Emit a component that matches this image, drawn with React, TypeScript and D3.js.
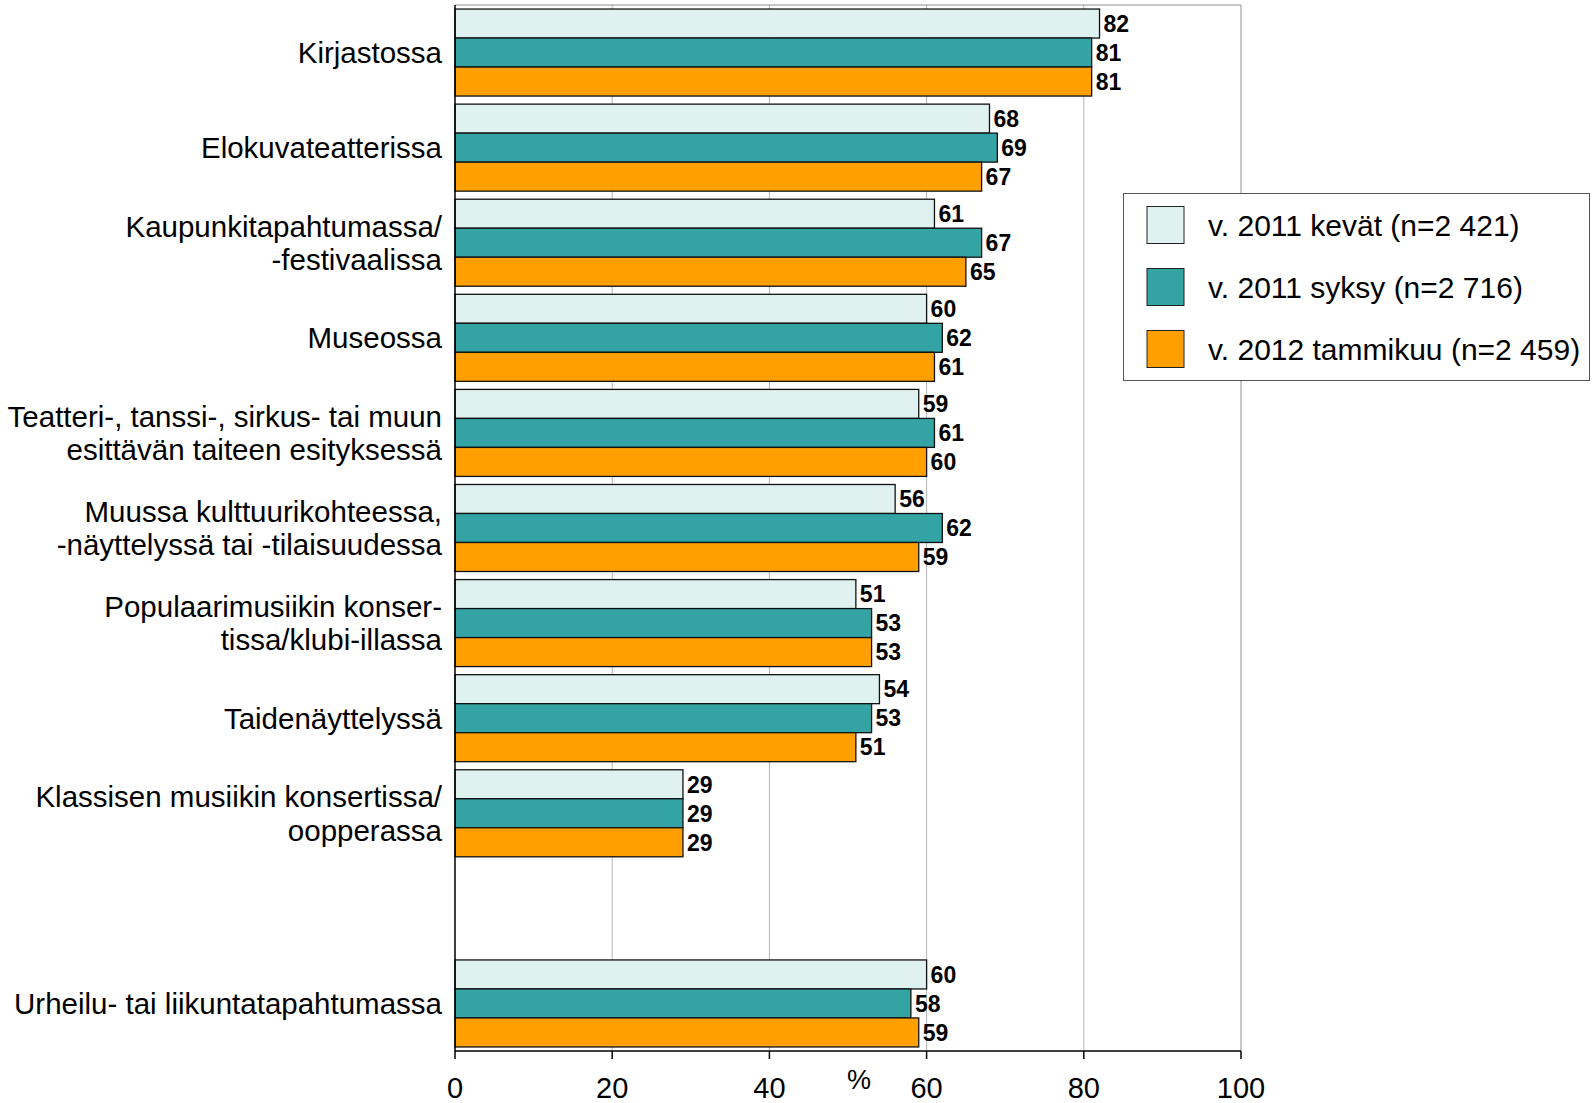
import React from "react";
import * as d3 from "d3";

const categories: string[][] = [
  ["Kirjastossa"],
  ["Elokuvateatterissa"],
  ["Kaupunkitapahtumassa/", "-festivaalissa"],
  ["Museossa"],
  ["Teatteri-, tanssi-, sirkus- tai muun", "esittävän taiteen esityksessä"],
  ["Muussa kulttuurikohteessa,", "-näyttelyssä tai -tilaisuudessa"],
  ["Populaarimusiikin konser-", "tissa/klubi-illassa"],
  ["Taidenäyttelyssä"],
  ["Klassisen musiikin konsertissa/", "oopperassa"],
  [],
  ["Urheilu- tai liikuntatapahtumassa"],
];

const seriesNames = [
  "v. 2011 kevät (n=2 421)",
  "v. 2011 syksy (n=2 716)",
  "v. 2012 tammikuu (n=2 459)",
];
const kevat2011 = [82, 68, 61, 60, 59, 56, 51, 54, 29, null, 60];
const syksy2011 = [81, 69, 67, 62, 61, 62, 53, 53, 29, null, 58];
const tammikuu2012 = [81, 67, 65, 61, 60, 59, 53, 51, 29, null, 59];
const seriesValues = [kevat2011, syksy2011, tammikuu2012];
const colors = ["#E0F2EF", "#33A3A4", "#FFA000"];
const xTicks = [0, 20, 40, 60, 80, 100];

const W = 1595;
const H = 1103;
const left = 455;
const right = 1241;
const top = 5;
const bottom = 1051;
const font = "Liberation Sans, Arial, sans-serif";

export default function App() {
  const x = d3.scaleLinear().domain([0, 100]).range([left, right]);
  const slots = categories.map((_, i) => String(i));
  const y = d3
    .scaleBand()
    .domain(slots)
    .range([top, bottom])
    .paddingInner(0.085)
    .paddingOuter(0.0425);
  const sub = d3
    .scaleBand()
    .domain(["0", "1", "2"])
    .range([0, y.bandwidth()]);

  return (
    <svg width={W} height={H} style={{ position: "absolute", left: 0, top: 0 }}>
      <rect x={0} y={0} width={W} height={H} fill="#fff" />
      {/* grid */}
      {xTicks.slice(1, -1).map((t) => (
        <line key={t} x1={x(t)} x2={x(t)} y1={top} y2={bottom} stroke="#b4b4b4" strokeWidth={1} />
      ))}
      {/* frame top/right */}
      <line x1={left} x2={right} y1={top} y2={top} stroke="#909090" strokeWidth={1} />
      <line x1={right} x2={right} y1={top} y2={bottom} stroke="#909090" strokeWidth={1} />
      {/* bars */}
      {categories.map((cat, i) =>
        seriesValues.map((vals, s) => {
          const v = vals[i];
          if (v == null) return null;
          const by = (y(String(i)) as number) + (sub(String(s)) as number);
          const bh = sub.bandwidth();
          return (
            <g key={`${i}-${s}`}>
              <rect
                x={x(0)}
                y={by}
                width={x(v) - x(0)}
                height={bh}
                fill={colors[s]}
                stroke="#111"
                strokeWidth={1.3}
              />
              <text
                x={x(v) + 4}
                y={by + bh / 2}
                dy="0.36em"
                fontFamily={font}
                fontWeight="bold"
                fontSize={23}
                fill="#000"
              >
                {v}
              </text>
            </g>
          );
        })
      )}
      {/* axes */}
      <line x1={left} x2={left} y1={top} y2={bottom} stroke="#000" strokeWidth={1.5} />
      <line x1={left} x2={right} y1={bottom} y2={bottom} stroke="#000" strokeWidth={1.5} />
      {xTicks.map((t) => (
        <g key={t}>
          <line x1={x(t)} x2={x(t)} y1={bottom} y2={bottom + 8} stroke="#000" strokeWidth={1.5} />
          <text
            x={x(t)}
            y={bottom + 37}
            dy="0.36em"
            textAnchor="middle"
            fontFamily={font}
            fontSize={29}
            fill="#000"
          >
            {t}
          </text>
        </g>
      ))}
      <text x={859} y={1079} dy="0.36em" textAnchor="middle" fontFamily={font} fontSize={27} fill="#000">
        %
      </text>
      {/* category labels */}
      {categories.map((lines, i) => {
        const cy = (y(String(i)) as number) + y.bandwidth() / 2;
        const lh = 33.5;
        return (
          <text key={i} textAnchor="end" fontFamily={font} fontSize={29.5} fill="#000">
            {lines.map((ln, j) => (
              <tspan key={j} x={left - 13} y={cy + (j - (lines.length - 1) / 2) * lh} dy="0.36em">
                {ln}
              </tspan>
            ))}
          </text>
        );
      })}
      {/* legend */}
      <rect x={1123.5} y={193.5} width={466} height={187} fill="#fff" stroke="#555" strokeWidth={1} />
      {seriesNames.map((name, s) => (
        <g key={s}>
          <rect x={1147} y={206.5 + s * 62} width={37} height={37} fill={colors[s]} stroke="#222" strokeWidth={1} />
          <text x={1208} y={225 + s * 62} dy="0.36em" fontFamily={font} fontSize={30} fill="#000">
            {name}
          </text>
        </g>
      ))}
    </svg>
  );
}
